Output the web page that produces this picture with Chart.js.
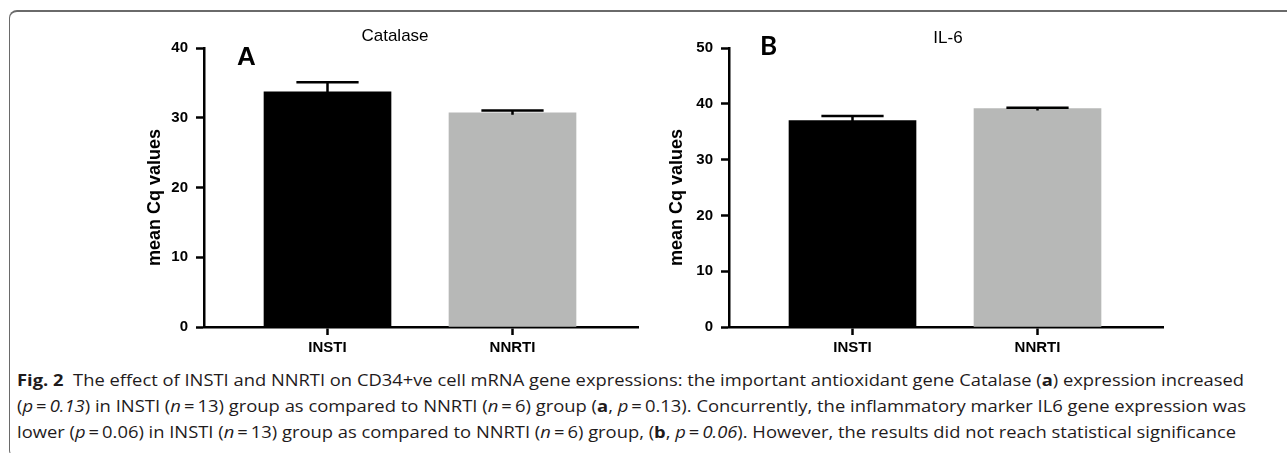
<!DOCTYPE html>
<html><head><meta charset="utf-8">
<script src="https://cdn.jsdelivr.net/npm/chart.js@4.4.1/dist/chart.umd.min.js"></script>
<style>
html,body{margin:0;padding:0;background:#fff;width:1287px;height:453px;overflow:hidden;position:relative;}
#frame{position:absolute;left:9px;top:10px;width:1300px;height:448px;border-top:2px solid #6a6a6a;border-left:1.5px solid #6a6a6a;border-top-left-radius:8px;border-bottom-left-radius:8px;box-sizing:border-box;}
#ca{position:absolute;left:0;top:0;}
#cb{position:absolute;left:660px;top:0;}
#cap{position:absolute;left:17px;top:367px;font-family:"Open Sans",sans-serif;font-size:16.5px;line-height:26px;color:#1f1b1c;white-space:nowrap;}
#cap div{transform-origin:0 50%;}
#cap b{font-weight:700;}
</style></head><body>
<div id="frame"></div>
<canvas id="ca" width="660" height="365" style="width:660px;height:365px"></canvas>
<canvas id="cb" width="627" height="365" style="width:627px;height:365px"></canvas>
<div id="cap">
<div data-w="1227"><b>Fig. 2</b>&nbsp; The effect of INSTI and NNRTI on CD34+ve cell mRNA gene expressions: the important antioxidant gene Catalase (<b>a</b>) expression increased</div>
<div data-w="1229">(<i>p</i>&#8201;=&#8201;<i>0.13</i>) in INSTI (<i>n</i>&#8201;=&#8201;13) group as compared to NNRTI (<i>n</i>&#8201;=&#8201;6) group (<b>a</b>, <i>p</i>&#8201;=&#8201;0.13). Concurrently, the inflammatory marker IL6 gene expression was</div>
<div data-w="1219">lower (<i>p</i>&#8201;=&#8201;0.06) in INSTI (<i>n</i>&#8201;=&#8201;13) group as compared to NNRTI (<i>n</i>&#8201;=&#8201;6) group, (<b>b</b>, <i>p</i>&#8201;=&#8201;<i>0.06</i>). However, the results did not reach statistical significance</div>
</div>
<script>
// ---- data ----
const categories = ['INSTI', 'NNRTI'];
const catalaseMean = [33.7, 30.7];
const catalaseSem = [1.4, 0.35];
const il6Mean = [37.0, 39.15];
const il6Sem = [0.8, 0.15];
const catalaseTicks = [0, 10, 20, 30, 40];
const il6Ticks = [0, 10, 20, 30, 40, 50];
const barColors = ['#000000', '#b7b8b7'];

Chart.defaults.font.family = '"Liberation Sans", Arial, sans-serif';
Chart.defaults.color = '#000';

const errorBars = {
  id: 'errorBars',
  afterDatasetsDraw(chart, args, opts) {
    const ctx = chart.ctx, y = chart.scales.y;
    const meta = chart.getDatasetMeta(0);
    const vals = chart.data.datasets[0].data;
    ctx.save();
    ctx.strokeStyle = '#000'; ctx.lineWidth = 2.5;
    meta.data.forEach((bar, i) => {
      const yTop = y.getPixelForValue(vals[i] + opts.sem[i]);
      const yBase = y.getPixelForValue(vals[i]) + 2;
      const half = bar.width * 0.245;
      ctx.beginPath();
      ctx.moveTo(bar.x, yBase); ctx.lineTo(bar.x, yTop);
      ctx.moveTo(bar.x - half, yTop); ctx.lineTo(bar.x + half, yTop);
      ctx.stroke();
    });
    ctx.restore();
  }
};

const panelText = {
  id: 'panelText',
  afterDraw(chart, args, o) {
    const ctx = chart.ctx, ca = chart.chartArea;
    ctx.save();
    ctx.fillStyle = '#000';
    ctx.font = o.letterFont;
    ctx.textAlign = 'left'; ctx.textBaseline = 'alphabetic';
    ctx.fillText(o.letter, ca.left + o.letterDx, o.letterY);
    ctx.font = '17px "Liberation Sans", Arial, sans-serif';
    ctx.textAlign = 'center'; ctx.textBaseline = 'middle';
    ctx.fillText(o.title, ca.left + o.titleDx, o.titleY);
    ctx.translate(ca.left - o.yTitleDx, (ca.top + ca.bottom) / 2 + 10);
    ctx.rotate(-Math.PI / 2);
    ctx.font = 'bold 18px "Liberation Sans", Arial, sans-serif';
    ctx.fillText('mean Cq values', 0, 0);
    ctx.restore();
  }
};

function makeChart(id, means, sems, ticks, yAxisWidth, rightPad, text) {
  const maxV = ticks[ticks.length - 1];
  return new Chart(document.getElementById(id), {
    type: 'bar',
    data: {
      labels: categories,
      datasets: [{ data: means, backgroundColor: barColors, borderWidth: 0, barThickness: 127 }]
    },
    options: {
      responsive: false,
      animation: false,
      events: [],
      layout: { padding: { left: 0, right: rightPad, top: 48, bottom: 0 } },
      plugins: { legend: { display: false }, tooltip: { enabled: false },
        errorBars: { sem: sems }, panelText: text },
      scales: {
        x: {
          offset: true,
          afterBuildTicks(s) { s._startValue = -0.6676; s._valueRange = 2.346; },
          afterFit(s) { s.height = 38; },
          grid: { offset: false, drawOnChartArea: false, drawTicks: true, tickLength: 8, tickWidth: 2.5, tickColor: '#000' },
          border: { display: true, color: '#000', width: 2.5 },
          ticks: { font: { size: 15, weight: 'bold' }, padding: 4, maxRotation: 0 }
        },
        y: {
          min: 0, max: maxV,
          afterBuildTicks(s) { s.ticks = ticks.map(v => ({ value: v })); },
          afterFit(s) { s.width = yAxisWidth; },
          grid: { drawOnChartArea: false, drawTicks: true, tickLength: 8, tickWidth: 2.5, tickColor: '#000' },
          border: { display: true, color: '#000', width: 2.5 },
          ticks: { font: { size: 15, weight: 'bold' }, padding: 8 }
        }
      }
    },
    plugins: [errorBars, panelText]
  });
}

makeChart('ca', catalaseMean, catalaseSem, catalaseTicks, 204, 22,
  { letter: 'A', letterFont: 'bold 26px "Liberation Sans", Arial, sans-serif', letterDx: 33, letterY: 65,
    title: 'Catalase', titleDx: 191, titleY: 36, yTitleDx: 49 });
makeChart('cb', il6Mean, il6Sem, il6Ticks, 69, 124,
  { letter: 'B', letterFont: 'bold 26px Lato, "Open Sans", sans-serif', letterDx: 31, letterY: 55,
    title: 'IL-6', titleDx: 219, titleY: 38, yTitleDx: 52 });

document.querySelectorAll('#cap div').forEach(d => {
  d.style.display = 'inline-block';
  const w = d.getBoundingClientRect().width;
  const target = +d.dataset.w;
  d.style.transform = 'scaleX(' + (target / w) + ')';
  d.style.display = 'block';
});
</script>
</body></html>
